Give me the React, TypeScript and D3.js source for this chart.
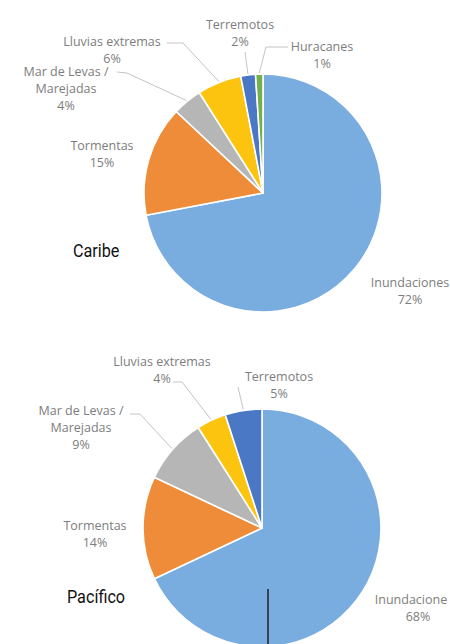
import React from "react";
import * as d3 from "d3";

// ---- Data ----
const caribeCategories = ["Inundaciones", "Tormentas", "Mar de Levas / Marejadas", "Lluvias extremas", "Terremotos", "Huracanes"];
const caribeValues = [72, 15, 4, 6, 2, 1];
const caribeLabelLines = [["Inundaciones", "72%"], ["Tormentas", "15%"], ["Mar de Levas /", "Marejadas", "4%"], ["Lluvias extremas", "6%"], ["Terremotos", "2%"], ["Huracanes", "1%"]];

const pacificoCategories = ["Inundaciones", "Tormentas", "Mar de Levas / Marejadas", "Lluvias extremas", "Terremotos"];
const pacificoValues = [68, 14, 9, 4, 5];
const pacificoLabelLines = [["Inundacione", "68%"], ["Tormentas", "14%"], ["Mar de Levas /", "Marejadas", "9%"], ["Lluvias extremas", "4%"], ["Terremotos", "5%"]];

const colorOf: Record<string, string> = {
  "Inundaciones": "#7aaddf",
  "Tormentas": "#ee8c3a",
  "Mar de Levas / Marejadas": "#b6b6b6",
  "Lluvias extremas": "#fcc30f",
  "Terremotos": "#4a78c4",
  "Huracanes": "#74af4d",
};

// ---- Layout (positions relative to pie centre) ----
type LabelLayout = { dx: number; dy: number; leader?: [number, number][]; lineDx?: number[] };

const caribeLayout = {
  cx: 263, cy: 193, r: 119, title: "Caribe", titleX: 73, titleY: 257,
  labels: [
    { dx: 147, dy: 90 },
    { dx: -161, dy: -47 },
    { dx: -197, dy: -121, leader: [[-146, -121], [-136, -120]] },
    { dx: -151, dy: -151, leader: [[-96, -150], [-80, -150]] },
    { dx: -23, dy: -168, leader: [[-18, -141]] },
    { dx: 59, dy: -146, leader: [[25, -146], [3, -146]] },
  ] as LabelLayout[],
};

const pacificoLayout = {
  cx: 262, cy: 528, r: 119, title: "Pacífico", titleX: 67, titleY: 603,
  labels: [
    { dx: 150, dy: 72, lineDx: [-1, 6] },
    { dx: -167, dy: -2 },
    { dx: -181, dy: -117, leader: [[-132, -114], [-122, -114]] },
    { dx: -100, dy: -166, leader: [[-89, -146], [-80, -146]] },
    { dx: 17, dy: -151, leader: [[-24, -141]] },
  ] as LabelLayout[],
};

const LINE_H = 17;

function Pie({ cats, vals, lines, layout }: { cats: string[]; vals: number[]; lines: string[][]; layout: typeof caribeLayout }) {
  const pie = d3.pie<number>().sort(null).value((d) => d).startAngle(0).endAngle(2 * Math.PI);
  const arcs = pie(vals);
  const arcGen = d3.arc<d3.PieArcDatum<number>>().innerRadius(0).outerRadius(layout.r);
  const edgeGen = d3.arc<d3.PieArcDatum<number>>().innerRadius(layout.r + 1).outerRadius(layout.r + 1);
  return (
    <g>
      <g transform={`translate(${layout.cx},${layout.cy})`}>
        {arcs.map((a, i) => (
          <path key={i} d={arcGen(a) || ""} fill={colorOf[cats[i]]} stroke="#fff" strokeWidth={1.6} strokeLinejoin="round" />
        ))}
        {arcs.map((a, i) => {
          const lay = layout.labels[i];
          if (!lay.leader) return null;
          const [ex, ey] = edgeGen.centroid(a);
          const pts = [...lay.leader, [ex, ey]];
          const d = d3.line()(pts as [number, number][]);
          return <path key={"l" + i} d={d || ""} fill="none" stroke="#c4c4c4" strokeWidth={1} />;
        })}
        {arcs.map((a, i) => {
          const lay = layout.labels[i];
          return (
            <text key={"t" + i} fontFamily="'Open Sans', sans-serif" fontSize={12.5} fill="#7d7d7d" textAnchor="middle">
              {lines[i].map((ln, k) => (
                <tspan key={k} x={lay.dx + (lay.lineDx ? lay.lineDx[k] : 0)} y={lay.dy + k * LINE_H} dy="0.35em">{ln}</tspan>
              ))}
            </text>
          );
        })}
      </g>
      <text x={layout.titleX} y={layout.titleY} fontFamily="Roboto, sans-serif" fontSize={18} fill="#111"
        transform={`translate(${layout.titleX},0) scale(0.9,1) translate(${-layout.titleX},0)`}>{layout.title}</text>
    </g>
  );
}

export default function App() {
  return (
    <svg width={450} height={644} style={{ position: "absolute", left: 0, top: 0, background: "#fff" }}>
      <rect x={0} y={0} width={450} height={644} fill="#fff" />
      <Pie cats={caribeCategories} vals={caribeValues} lines={caribeLabelLines} layout={caribeLayout} />
      <Pie cats={pacificoCategories} vals={pacificoValues} lines={pacificoLabelLines} layout={pacificoLayout} />
      <line x1={268} y1={589} x2={268} y2={644} stroke="#222" strokeWidth={1.5} />
    </svg>
  );
}
